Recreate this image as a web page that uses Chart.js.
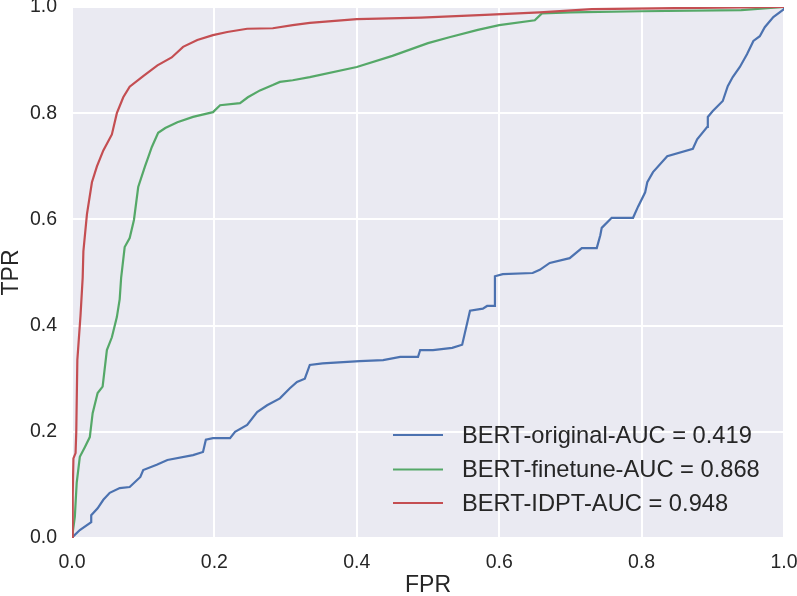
<!DOCTYPE html>
<html>
<head>
<meta charset="utf-8">
<script src="https://cdn.jsdelivr.net/npm/chart.js@4"></script>
<style>
  html, body { margin: 0; padding: 0; background: #ffffff; }
  canvas { display: block; }
</style>
</head>
<body>
<canvas id="roc" width="797" height="596"></canvas>
<script>

// tick values of both axes
const tickValues = [0, 0.2, 0.4, 0.6, 0.8, 1.0];

const seriesLabels = ['BERT-original-AUC = 0.419', 'BERT-finetune-AUC = 0.868', 'BERT-IDPT-AUC = 0.948'];

// BERT-original
const fprOriginal = [0, 0.001, 0.011, 0.027, 0.027, 0.036, 0.044, 0.053, 0.067, 0.081,
    0.096, 0.100, 0.119, 0.134, 0.17, 0.184, 0.188, 0.198, 0.222, 0.229,
    0.246, 0.26, 0.274, 0.292, 0.306, 0.316, 0.327, 0.334, 0.352, 0.404,
    0.437, 0.461, 0.486, 0.489, 0.507, 0.534, 0.548, 0.559, 0.577, 0.583,
    0.594, 0.594, 0.605, 0.647, 0.657, 0.671, 0.699, 0.716, 0.737, 0.742,
    0.744, 0.758, 0.788, 0.795, 0.805, 0.808, 0.816, 0.836, 0.872, 0.878,
    0.892, 0.893, 0.9, 0.914, 0.921, 0.928, 0.938, 0.948, 0.957, 0.966,
    0.973, 0.985, 1.0, 1.0];
const tprOriginal = [0, 0.002, 0.015, 0.03, 0.043, 0.056, 0.072, 0.085, 0.094, 0.096,
    0.115, 0.128, 0.138, 0.147, 0.156, 0.162, 0.185, 0.188, 0.188, 0.2,
    0.213, 0.237, 0.25, 0.263, 0.282, 0.294, 0.30, 0.326, 0.329, 0.333,
    0.335, 0.341, 0.341, 0.354, 0.354, 0.358, 0.364, 0.428, 0.432, 0.437,
    0.437, 0.493, 0.497, 0.499, 0.505, 0.518, 0.527, 0.546, 0.546, 0.57,
    0.584, 0.603, 0.603, 0.624, 0.651, 0.67, 0.689, 0.719, 0.733, 0.751,
    0.774, 0.793, 0.804, 0.823, 0.851, 0.868, 0.887, 0.911, 0.936, 0.945,
    0.962, 0.981, 0.996, 1.0];

// BERT-finetune
const fprFinetune = [0, 0.004, 0.0066, 0.011, 0.018, 0.025, 0.029, 0.036, 0.043, 0.049,
    0.056, 0.063, 0.067, 0.069, 0.074, 0.081, 0.087, 0.093, 0.1025, 0.107,
    0.112, 0.121, 0.131, 0.148, 0.17, 0.198, 0.208, 0.236, 0.247, 0.264,
    0.282, 0.292, 0.31, 0.334, 0.4, 0.45, 0.5, 0.53, 0.57, 0.6,
    0.65, 0.66, 0.7, 0.8, 0.94, 1.0];
const tprFinetune = [0, 0.04, 0.104, 0.153, 0.171, 0.19, 0.235, 0.273, 0.285, 0.354,
    0.378, 0.416, 0.45, 0.49, 0.548, 0.565, 0.599, 0.661, 0.70, 0.717,
    0.736, 0.763, 0.772, 0.783, 0.793, 0.802, 0.815, 0.819, 0.83, 0.843,
    0.853, 0.859, 0.862, 0.868, 0.887, 0.908, 0.932, 0.943, 0.957, 0.966,
    0.975, 0.988, 0.99, 0.992, 0.994, 1.0];

// BERT-IDPT
const fprIdpt = [0, 0.001, 0.002, 0.005, 0.006, 0.0075, 0.012, 0.015, 0.016, 0.021,
    0.028, 0.035, 0.044, 0.056, 0.063, 0.072, 0.081, 0.10, 0.12, 0.14,
    0.156, 0.176, 0.198, 0.218, 0.246, 0.282, 0.31, 0.334, 0.40, 0.49,
    0.58, 0.657, 0.73, 0.85, 1.0];
const tprIdpt = [0, 0.08, 0.15, 0.16, 0.20, 0.335, 0.42, 0.49, 0.54, 0.61,
    0.67, 0.70, 0.73, 0.76, 0.80, 0.83, 0.85, 0.87, 0.89, 0.905,
    0.925, 0.938, 0.947, 0.953, 0.959, 0.96, 0.966, 0.97, 0.977, 0.98,
    0.985, 0.99, 0.996, 0.998, 1.0];


function toPoints(xs, ys) {
    return xs.map((x, i) => ({ x: x, y: ys[i] }));
}

const FONT = '"Liberation Sans", Arial, sans-serif';
const TEXT_COLOR = '#262626';

// grey seaborn-like panel behind the lines
const panelBackground = {
    id: 'panelBackground',
    beforeDraw(chart) {
        const { ctx, chartArea } = chart;
        ctx.save();
        ctx.fillStyle = '#EAEAF2';
        ctx.fillRect(chartArea.left, chartArea.top, chartArea.width, chartArea.height);
        ctx.restore();
    }
};

// legend in lower right corner, inside the panel
const innerLegend = {
    id: 'innerLegend',
    afterDatasetsDraw(chart) {
        const { ctx } = chart;
        const rowY = [435, 469.5, 503];
        ctx.save();
        ctx.font = '23.7px ' + FONT;
        ctx.textBaseline = 'middle';
        ctx.textAlign = 'left';
        chart.data.datasets.forEach((ds, i) => {
            const y = rowY[i];
            ctx.strokeStyle = ds.borderColor;
            ctx.lineWidth = 2.2;
            ctx.beginPath();
            ctx.moveTo(393, y);
            ctx.lineTo(443, y);
            ctx.stroke();
            ctx.fillStyle = TEXT_COLOR;
            ctx.fillText(ds.label, 462, y + 1);
        });
        ctx.restore();
    }
};

const ctx = document.getElementById('roc').getContext('2d');

new Chart(ctx, {
    type: 'scatter',
    data: {
        datasets: [
            {
                label: seriesLabels[0],
                data: toPoints(fprOriginal, tprOriginal),
                borderColor: '#4C72B0',
                order: 3
            },
            {
                label: seriesLabels[1],
                data: toPoints(fprFinetune, tprFinetune),
                borderColor: '#55A868',
                order: 2
            },
            {
                label: seriesLabels[2],
                data: toPoints(fprIdpt, tprIdpt),
                borderColor: '#C44E52',
                order: 1
            }
        ]
    },
    options: {
        responsive: false,
        animation: false,
        showLine: true,
        elements: {
            point: { radius: 0, hoverRadius: 0 },
            line: { borderWidth: 2.2, tension: 0, fill: false }
        },
        layout: {
            padding: { left: 0, right: 13, top: 7, bottom: 0 }
        },
        plugins: {
            legend: { display: false },
            tooltip: { enabled: false }
        },
        scales: {
            x: {
                type: 'linear',
                min: 0,
                max: 1,
                border: { display: false },
                grid: { color: '#ffffff', lineWidth: 2, drawTicks: false },
                afterBuildTicks: (scale) => { scale.ticks = tickValues.map(v => ({ value: v })); },
                afterFit: (scale) => {
                    scale.height = 58;
                    scale.paddingLeft = 0;
                    scale.paddingRight = 0;
                },
                ticks: {
                    padding: 13,
                    color: TEXT_COLOR,
                    font: { family: FONT, size: 19.5 },
                    maxRotation: 0,
                    autoSkip: false,
                    callback: (v) => v.toFixed(1)
                },
                title: {
                    display: true,
                    text: 'FPR',
                    color: TEXT_COLOR,
                    font: { family: FONT, size: 23, lineHeight: 1 },
                    padding: { top: 0, bottom: -1 }
                }
            },
            y: {
                type: 'linear',
                min: 0,
                max: 1,
                border: { display: false },
                grid: { color: '#ffffff', lineWidth: 2, drawTicks: false },
                afterBuildTicks: (scale) => { scale.ticks = tickValues.map(v => ({ value: v })); },
                afterFit: (scale) => {
                    scale.width = 72;
                    scale.paddingTop = 0;
                    scale.paddingBottom = 0;
                },
                ticks: {
                    padding: 15,
                    color: TEXT_COLOR,
                    font: { family: FONT, size: 19.5 },
                    autoSkip: false,
                    callback: (v) => v.toFixed(1)
                },
                title: {
                    display: true,
                    text: 'TPR',
                    color: TEXT_COLOR,
                    font: { family: FONT, size: 23, lineHeight: 1 },
                    padding: { top: 0, bottom: 0 }
                }
            }
        }
    },
    plugins: [panelBackground, innerLegend]
});
</script>
</body>
</html>
